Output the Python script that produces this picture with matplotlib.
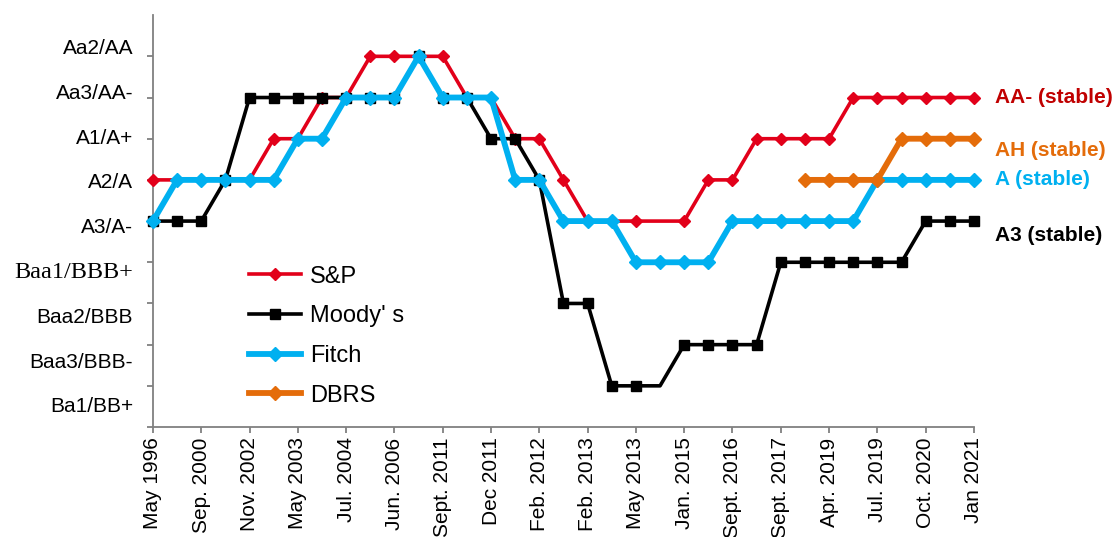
import matplotlib
matplotlib.use('Agg')
import numpy as np
import matplotlib.pyplot as plt
import matplotlib.transforms as mtransforms

plt.rcParams['font.family'] = ['Liberation Sans', 'DejaVu Sans']

# 横轴日期标签（每两个数据点一个标签）
dates = ['May 1996', 'Sep. 2000', 'Nov. 2002', 'May 2003', 'Jul. 2004', 'Jun. 2006',
         'Sept. 2011', 'Dec 2011', 'Feb. 2012', 'Feb. 2013', 'May 2013', 'Jan. 2015',
         'Sept. 2016', 'Sept. 2017', 'Apr. 2019', 'Jul. 2019', 'Oct. 2020', 'Jan 2021']

# 评级等级：1 = Ba1/BB+ ... 9 = Aa2/AA
rating_labels = ['Ba1/BB+', 'Baa3/BBB-', 'Baa2/BBB', 'Baa1/BBB+', 'A3/A-',
                 'A2/A', 'A1/A+', 'Aa3/AA-', 'Aa2/AA']

sp = [6, 6, 6, 6, 6, 7, 7, 8, 8, 9, 9, 9, 9, 8, 8, 7, 7, 6, 5, 5, 5, 5, 5,
      6, 6, 7, 7, 7, 7, 8, 8, 8, 8, 8, 8]
moodys = [5, 5, 5, 6, 8, 8, 8, 8, 8, 8, 8, 9, 8, 8, 7, 7, 6, 3, 3, 1, 1, 1, 2,
          2, 2, 2, 4, 4, 4, 4, 4, 4, 5, 5, 5]
fitch = [5, 6, 6, 6, 6, 6, 7, 7, 8, 8, 8, 9, 8, 8, 8, 6, 6, 5, 5, 5, 4, 4, 4,
         4, 5, 5, 5, 5, 5, 5, 6, 6, 6, 6, 6]
dbrs = [np.nan] * 27 + [6, 6, 6, 6, 7, 7, 7, 7]

# 右侧当前评级注释
current = [('AA- (stable)', 8.0, '#C00000'),
           ('AH (stable)', 6.72, '#E46C0A'),
           ('A (stable)', 6.0, '#00B0F0'),
           ('A3 (stable)', 4.66, 'black')]

x = np.arange(len(sp)) * 0.5
no_marker = 21  # 该点无标记
marks = [i for i in range(len(sp)) if i != no_marker]

fig = plt.figure(figsize=(11.14, 5.37), dpi=100)
ax = fig.add_axes([0.1373, 0.2048, 0.737, 0.767])

ax.plot(x, sp, color='#E2001A', lw=2.6, marker='D', ms=6.2, markevery=marks,
        label='S&P', clip_on=False, zorder=3)
ax.plot(x, moodys, color='black', lw=2.6, marker='s', ms=6.6, markevery=marks,
        label="Moody' s", clip_on=False, zorder=4)
ax.plot(x, fitch, color='#00B0F0', lw=4.2, marker='D', ms=7.2,
        label='Fitch', clip_on=False, zorder=5)
ax.plot(x, dbrs, color='#E46C0A', lw=4.2, marker='D', ms=7.6,
        label='DBRS', clip_on=False, zorder=6)

ax.set_xlim(0, 17)
ax.set_ylim(0, 10)
ax.set_xticks(np.arange(len(dates)))
ax.set_xticklabels(dates, rotation=90, fontsize=15)
ax.set_yticks(np.arange(0, 10))
ax.set_yticklabels([])

for s in ['top', 'right']:
    ax.spines[s].set_visible(False)
for s in ['left', 'bottom']:
    ax.spines[s].set_color('#808080')
    ax.spines[s].set_linewidth(1.3)
ax.tick_params(axis='both', colors='#808080', length=4.5, width=1.3, direction='out')
ax.tick_params(axis='x', labelcolor='black', pad=3)

# 纵轴标签（均匀排布）
trans = mtransforms.blended_transform_factory(ax.transAxes, ax.transData)
label_pos = np.linspace(0.49, 9.19, len(rating_labels))
for lab, yy in zip(rating_labels, label_pos):
    if lab == 'Baa1/BBB+':
        ax.text(-0.024, yy, lab, transform=trans, ha='right', va='center',
                fontsize=17.5, family=['Liberation Serif', 'DejaVu Serif'])
    else:
        ax.text(-0.024, yy, lab, transform=trans, ha='right', va='center', fontsize=15)

for txt, yy, col in current:
    ax.text(1.0256, yy, txt, transform=trans, ha='left', va='center',
            fontsize=15, fontweight='bold', color=col)

ax.legend(loc='upper left', bbox_to_anchor=(0.105, 0.415), frameon=False,
          fontsize=17, handlelength=2.2, labelspacing=0.75, handletextpad=0.4,
          borderaxespad=0)

fig.savefig('out.png', dpi=100)
